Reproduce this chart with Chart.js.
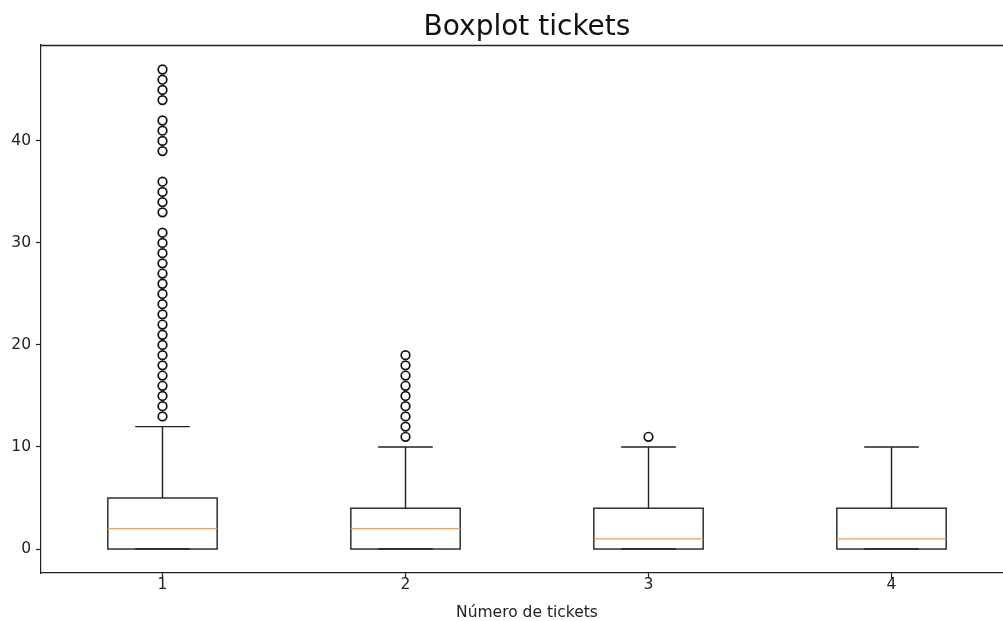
<!DOCTYPE html>
<html>
<head>
<meta charset="utf-8">
<script src="https://cdn.jsdelivr.net/npm/chart.js@4/dist/chart.umd.min.js"></script>
<style>
  html, body { margin: 0; padding: 0; background: #fff; overflow: hidden; }
  #wrap { width: 1003px; height: 621px; overflow: hidden; }
</style>
</head>
<body>
<div id="wrap"><canvas id="boxChart" width="1054" height="621"></canvas></div>
<script>
// box plot data
const categories = ['1', '2', '3', '4'];
const positions = [1, 2, 3, 4];
const whiskerLow = [0, 0, 0, 0];
const q1 = [0, 0, 0, 0];
const medians = [2, 2, 1, 1];
const q3 = [5, 4, 4, 4];
const whiskerHigh = [12, 10, 10, 10];
const outliers1 = [13, 14, 15, 16, 17, 18, 19, 20, 21, 22, 23, 24, 25, 26, 27, 28, 29, 30, 31,
                   33, 34, 35, 36, 39, 40, 41, 42, 44, 45, 46, 47];
const outliers2 = [11, 12, 13, 14, 15, 16, 17, 18, 19];
const outliers3 = [11];
const outliers4 = [];
const yTicks = [0, 10, 20, 30, 40];

const outlierLists = [outliers1, outliers2, outliers3, outliers4];
const outlierPoints = [];
outlierLists.forEach((list, i) => {
    list.forEach(v => outlierPoints.push({x: positions[i], y: v}));
});

const BOX_WIDTH = 0.45;

// draws boxes, whiskers, caps and medians with the chart's scales
const boxPlugin = {
    id: 'boxes',
    beforeDatasetsDraw(chart) {
        const {ctx, scales: {x, y}, chartArea} = chart;
        ctx.save();
        ctx.beginPath();
        ctx.rect(chartArea.left, chartArea.top, chartArea.right - chartArea.left, chartArea.bottom - chartArea.top);
        ctx.clip();
        positions.forEach((p, i) => {
            const xl = x.getPixelForValue(p - BOX_WIDTH / 2);
            const xr = x.getPixelForValue(p + BOX_WIDTH / 2);
            const xc = x.getPixelForValue(p);
            const cl = x.getPixelForValue(p - BOX_WIDTH / 4);
            const cr = x.getPixelForValue(p + BOX_WIDTH / 4);
            const yq1 = y.getPixelForValue(q1[i]);
            const yq3 = y.getPixelForValue(q3[i]);
            const ylo = y.getPixelForValue(whiskerLow[i]);
            const yhi = y.getPixelForValue(whiskerHigh[i]);
            const ymed = y.getPixelForValue(medians[i]);

            ctx.strokeStyle = '#222';
            ctx.lineWidth = 1.4;
            ctx.strokeRect(xl, yq3, xr - xl, yq1 - yq3);

            ctx.beginPath();
            ctx.moveTo(xc, yq3); ctx.lineTo(xc, yhi);
            ctx.moveTo(xc, yq1); ctx.lineTo(xc, ylo);
            ctx.moveTo(cl, yhi); ctx.lineTo(cr, yhi);
            ctx.moveTo(cl, ylo); ctx.lineTo(cr, ylo);
            ctx.stroke();

            ctx.strokeStyle = '#f5a04a';
            ctx.lineWidth = 1.3;
            ctx.beginPath();
            ctx.moveTo(xl, ymed); ctx.lineTo(xr, ymed);
            ctx.stroke();
        });
        ctx.restore();
    },
    afterDraw(chart) {
        // top spine (right spine falls outside the visible window)
        const {ctx, chartArea} = chart;
        const top = Math.round(chartArea.top) + 0.5;
        ctx.save();
        ctx.strokeStyle = '#222';
        ctx.lineWidth = 1.4;
        ctx.beginPath();
        ctx.moveTo(chartArea.left, top);
        ctx.lineTo(chartArea.right, top);
        ctx.stroke();
        ctx.restore();
    }
};

const ctx = document.getElementById('boxChart').getContext('2d');
const boxChart = new Chart(ctx, {
    type: 'scatter',
    data: {
        datasets: [{
            label: 'fliers',
            data: outlierPoints,
            pointStyle: 'circle',
            pointRadius: 4.3,
            pointBorderWidth: 1.7,
            borderColor: '#111',
            backgroundColor: 'rgba(0,0,0,0)',
            pointHoverRadius: 4.3
        }]
    },
    plugins: [boxPlugin],
    options: {
        responsive: false,
        animation: false,
        devicePixelRatio: 1,
        layout: { padding: { left: 0, right: 41, top: 0, bottom: 0 } },
        plugins: {
            legend: { display: false },
            tooltip: { enabled: false },
            title: {
                display: true,
                fullSize: false,
                text: 'Boxplot tickets',
                color: '#111',
                font: { family: 'DejaVu Sans', size: 28, weight: 'normal' },
                padding: { top: 11, bottom: 0.4 }
            }
        },
        scales: {
            x: {
                type: 'linear',
                min: 0.5,
                max: 4.5,
                afterBuildTicks: scale => { scale.ticks = positions.map(v => ({value: v})); },
                afterFit: scale => { scale.height = 48; },
                ticks: {
                    color: '#222',
                    font: { family: 'DejaVu Sans', size: 15.5 },
                    padding: -2,
                    callback: (v, i) => categories[i]
                },
                grid: { drawOnChartArea: false, tickLength: 5, tickColor: '#222', tickWidth: 1.2 },
                border: { color: '#222', width: 1.2 },
                title: {
                    display: true,
                    text: 'Número de tickets',
                    color: '#222',
                    font: { family: 'DejaVu Sans', size: 15.5, lineHeight: 1.1 },
                    padding: { top: 0, bottom: 0 }
                }
            },
            y: {
                min: -2.35,
                max: 49.4,
                afterBuildTicks: scale => { scale.ticks = yTicks.map(v => ({value: v})); },
                afterFit: scale => { scale.width = 41; },
                ticks: {
                    color: '#222',
                    font: { family: 'DejaVu Sans', size: 15.5 },
                    padding: 5
                },
                grid: { drawOnChartArea: false, tickLength: 5, tickColor: '#222', tickWidth: 1.2 },
                border: { color: '#222', width: 1.2 }
            }
        }
    }
});
</script>
</body>
</html>
